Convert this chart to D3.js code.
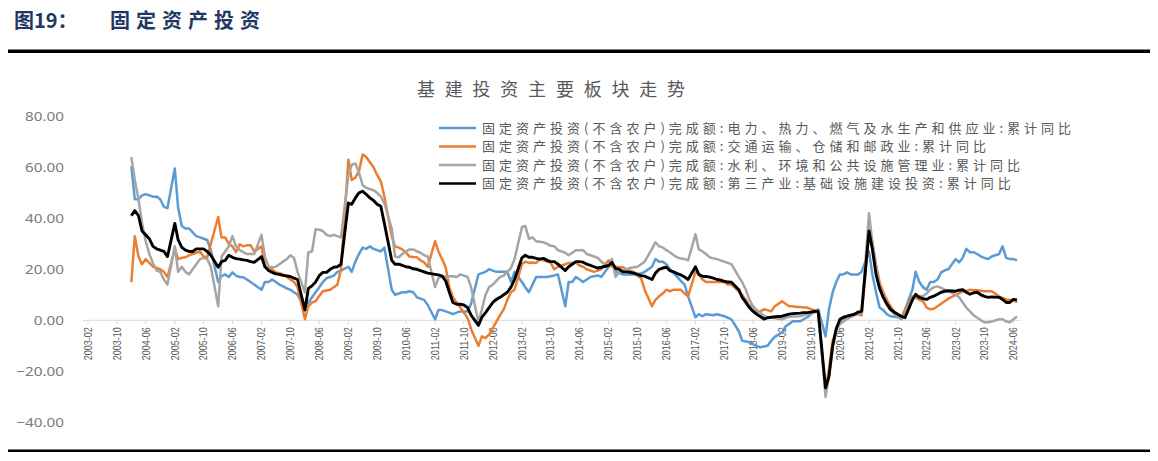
<!DOCTYPE html>
<html><head><meta charset="utf-8">
<script src="https://cdn.jsdelivr.net/npm/d3@7"></script>
<style>
html,body{margin:0;padding:0;background:#fff;}
svg{display:block;}
</style></head>
<body>
<svg id="chart" width="1158" height="461"></svg>
<script>
// ---------------- DATA ----------------
const headerLabel = "图19：";
const headerTitle = "固定资产投资";
const chartTitle = "基建投资主要板块走势";
const seriesNames = [
  "固定资产投资(不含农户)完成额:电力、热力、燃气及水生产和供应业:累计同比",
  "固定资产投资(不含农户)完成额:交通运输、仓储和邮政业:累计同比",
  "固定资产投资(不含农户)完成额:水利、环境和公共设施管理业:累计同比",
  "固定资产投资(不含农户)完成额:第三产业:基础设施建设投资:累计同比"
];
const seriesColors = ["#5B9BD5", "#ED7D31", "#A5A5A5", "#000000"];
const yTicks = [-40, -20, 0, 20, 40, 60, 80];
const xTickLabels = ["2003-02","2003-10","2004-06","2005-02","2005-10","2006-06","2007-02","2007-10",
  "2008-06","2009-02","2009-10","2010-06","2011-02","2011-10","2012-06","2013-02","2013-10","2014-06",
  "2015-02","2015-10","2016-06","2017-02","2017-10","2018-06","2019-02","2019-10","2020-06","2021-02",
  "2021-10","2022-06","2023-02","2023-10","2024-06"];

// categories: Feb..Dec of each year (no January release), 2004-02 .. 2024-07
const months = [];
for (let y = 2004; y <= 2024; y++) {
  for (let m = 2; m <= 12; m++) {
    if (y === 2024 && m > 7) break;
    months.push(y + "-" + String(m).padStart(2, "0"));
  }
}

// 电力、热力、燃气及水
const power = [
  60.5, 47.5, 47.5, 49, 49.5, 49, 48.5, 48.5, 47.5, 44.5, 44,      // 2004
  59.5, 44, 37, 36, 36, 34.5, 33, 32.5, 32, 31.5, 27.5,            // 2005
  15, 17.3, 18, 17, 18.8, 17.5, 17, 16.9, 16, 15, 14,              // 2006
  12, 15, 15, 16, 15, 14, 13.3, 12.5, 12, 11, 10,                  // 2007
  5, 7, 9, 11, 13, 15, 16.5, 17, 17.5, 19, 19.5,                   // 2008
  21, 19, 23, 26, 28.5, 28, 29, 28, 27.5, 27, 28.5,                // 2009
  12, 10, 10.5, 11, 11, 11.4, 11, 9, 8.5, 8, 6,                    // 2010
  0.4, 4, 4, 3.5, 3, 2.4, 3, 3.5, 3.5, 3.5, 6.5,                   // 2011
  18, 18.5, 19, 20, 19.5, 19, 19, 19, 19, 15, 19,                  // 2012
  15, 13, 11, 14, 17, 17, 17, 17, 17.3, 17.6, 18,                  // 2013
  5.5, 15, 15, 17, 16, 15, 16, 17, 17.3, 17.6, 17,                 // 2014
  21, 23, 19, 18.5, 18, 18, 18, 18, 18.2, 18.4, 19,                // 2015
  21, 24, 23, 23, 22, 20, 18.5, 17, 15.5, 14, 9.4,                 // 2016
  1.2, 2.4, 1.6, 2.4, 2.2, 2, 2.4, 2, 1.6, 1, 0.4,                 // 2017
  -4.3, -8, -8.3, -8.6, -9.3, -10, -10.6, -10.3, -10, -8, -6.5,    // 2018
  -4.7, -2.4, -1.4, -0.4, -0.4, -0.4, 0.4, 1.2, 2.4, 3.5, 4.3,     // 2019
  -6.3, 4.3, 11, 15, 18, 18, 18.8, 18, 18, 18, 19,                 // 2020
  27, 18, 11, 5, 4, 2.4, 1.6, 1.4, 1.2, 0.4, 4.3,                  // 2021
  12, 19, 15, 13, 12, 15, 15, 16, 18.8, 19.6, 20,                  // 2022
  24, 22.7, 24.5, 28, 26.7, 26.7, 26, 25, 24.5, 24, 25,            // 2023
  26, 29, 24.5, 24, 24, 23.5                                       // 2024
];
// 交通运输、仓储和邮政
const transport = [
  15, 33, 25, 22, 24, 22.5, 21, 20.5, 20, 19, 17,
  28, 24, 24.5, 24.7, 25.5, 26, 26.5, 27, 25, 24.7, 30,
  40.5, 32.5, 32.5, 30, 29, 26.7, 29.8, 29, 29.4, 29.4, 27,
  29, 21, 20.5, 20, 18.8, 18.5, 18, 17, 16, 15, 13,
  0.4, 5.5, 7, 7.5, 9.5, 11.4, 11.7, 12, 13, 14, 20,
  63, 55, 56, 58.4, 65, 64, 62, 60, 57, 54.5, 48.6,
  33, 29, 28.5, 27.8, 26.5, 25, 24.8, 24.7, 23.5, 22.7, 21,
  31, 27, 24, 20.8, 13, 9, 7, 5, 3, 1, -3.5,
  -10, -6.3, -7, -5.5, -3, -0.5, 2, 4.3, 8, 11, 12,
  22, 23, 22.5, 22.7, 22.5, 24, 23.5, 23, 22.5, 20, 21,
  22, 22.5, 22.5, 22.7, 21.5, 21, 20, 19.5, 19, 19.5, 20,
  23.5, 21, 21, 20.8, 20.8, 20, 19.5, 19, 17.5, 16.5, 12,
  5.5, 8, 9.4, 10.5, 12, 11.4, 12, 12, 12, 10.5, 9.4,
  19, 18, 16, 15, 15, 15, 15, 15, 15, 14, 14,
  11.4, 10, 8, 5.5, 5.5, 3, 3.5, 4.3, 4, 3.5, 5.5,
  7.5, 6.5, 5.5, 5.5, 5.2, 5.2, 5, 5, 4.3, 4, 3.5,
  -28, -19, -8, -4, -0.8, 0.5, 1.6, 2, 2.4, 2.4, 2,
  34.5, 30.6, 22, 15, 11, 8, 5.5, 3.5, 2.4, 1.2, 4,
  9.4, 9, 8, 7.5, 5, 4.3, 4.5, 5.5, 6.5, 7.5, 8.5,
  10, 10.6, 11.4, 11.4, 12, 11.8, 11.8, 11.6, 11.4, 11.4, 11.4,
  9.4, 8.8, 8.2, 8, 8, 7
];
// 水利、环境和公共设施管理
const water = [
  64, 55, 47.5, 38, 31, 26, 22.5, 19.5, 19, 16, 14,
  29, 19, 21, 19, 18, 20, 22, 24, 24.5, 24, 21,
  5.5, 25, 27, 29, 33, 29, 27.5, 26.7, 26, 26, 26,
  33.5, 25, 21, 20.8, 21, 22, 23, 24, 25.5, 24.5, 19,
  11, 26.7, 27, 35.7, 35.5, 35, 33.5, 33, 33.5, 33, 32.5,
  57, 61, 61.5, 58, 53, 52, 51.4, 51, 50, 48.6, 46,
  36, 25, 24.7, 26, 27, 27.8, 27.8, 27, 26.5, 25.5, 25,
  13, 16.5, 17.5, 17, 17.3, 17.3, 17, 18, 17.5, 17, 13,
  -0.8, 4.3, 10, 13, 14, 15.5, 17, 17.5, 19, 20.5, 24,
  36.5, 37, 32, 32.5, 31, 30.8, 30.6, 30, 29.2, 29, 27.5,
  26.5, 25.5, 26.5, 27.5, 27.5, 27.5, 26, 25.5, 25, 24.5, 23,
  21, 24, 17, 19, 19.5, 20, 20.5, 20.8, 21, 22, 23,
  28, 30.6, 29, 28.6, 27.5, 26.7, 25.5, 24.7, 24.2, 24, 23.5,
  33.7, 27.8, 27, 26, 24.7, 24.3, 24, 23.5, 23, 22.5, 22,
  17, 15, 12, 8, 5.5, 4, 3, 1.8, 1.2, 1.2, 0.8,
  0.4, 1, 1.4, 1.5, 1.5, 1.6, 2, 2.4, 2.7, 3, 3.5,
  -30, -22, -11, -4, -1.5, -0.5, 0.5, 1.2, 2, 2.5, 3,
  42, 30.6, 21, 14, 9, 6, 4, 2.5, 1.5, 0.6, 2.5,
  8.5, 9.4, 9.4, 9.4, 10.5, 12, 13, 13.3, 12.7, 12, 11.5,
  10, 9, 7, 5, 3.5, 2, 1, 0, -0.8, -0.8, -0.5,
  0.4, 0.4, -0.5, -0.8, 0.4, 1.5
];
// 第三产业:基础设施建设投资
const infra = [
  41, 43, 41, 35, 33.5, 32, 29, 28, 27.5, 27, 25,
  38, 31.5, 28.6, 27.5, 27, 27, 28, 28, 28, 27, 25.5,
  20.8, 23, 23.5, 25.5, 24.7, 24.2, 24, 23.7, 23.5, 23, 22.7,
  25, 21, 19.5, 18.8, 18.2, 18, 17.6, 17.4, 17.2, 16.5, 16,
  4, 12.5, 13.5, 15, 17.5, 18.8, 18.8, 20, 20.8, 21, 22,
  46, 45.5, 48, 50, 50.6, 49.4, 48, 47, 45.5, 44.7, 38,
  23.5, 22, 22, 21.5, 21, 20.8, 20.2, 20, 19.5, 19, 18.5,
  18, 17.8, 17.3, 15.5, 11, 7, 6.3, 6.3, 6, 5, 2,
  -2, 1.2, 3, 5, 7, 8.2, 9, 10, 11, 13, 16,
  24.5, 25.5, 24.7, 24.7, 24.3, 24, 24.3, 23.5, 23, 23, 22,
  19.5, 21, 22, 23, 23, 22.8, 22, 21.5, 21, 20.5, 20.8,
  21.5, 22.7, 20.3, 20, 19, 19, 18.8, 18.5, 18, 17.5, 17.3,
  16, 18.5, 20, 20.5, 20.8, 19.5, 19, 18.3, 17.8, 17, 16,
  21, 18, 17.3, 17.2, 16.9, 16.5, 16, 15.8, 15.3, 15, 14.9,
  12, 9, 7, 5, 3.5, 2.4, 1.5, 0.5, 1, 1.2, 1.4,
  1.6, 2, 2.4, 2.6, 2.7, 2.8, 3, 3, 3.2, 3.5, 3.5,
  -26.5, -22, -10, -3.3, 0.4, 1.2, 1.6, 2, 2.4, 3.2, 3.5,
  35, 28, 18, 12.5, 9, 6.5, 4.3, 3.2, 2.4, 1.5, 1,
  8, 10.2, 9, 8.5, 8.2, 9, 9.5, 10.2, 11, 11.4, 11.6,
  11.4, 11.8, 12, 11, 10.2, 10.8, 11, 10, 9.4, 9, 9.2,
  9, 8.2, 7, 7, 8.2, 8
];
const seriesValues = [power, transport, water, infra];

// ---------------- DRAW ----------------
const svg = d3.select("#chart");
const parseM = d3.timeParse("%Y-%m");
const CJK = "'Noto Sans CJK SC','Noto Sans',sans-serif";

// header
svg.append("text").attr("x", 14).attr("y", 28)
  .attr("font-family", CJK).attr("font-weight", 700).attr("font-size", 20)
  .attr("fill", "#1F3864").text(headerLabel);
svg.append("text").attr("x", 110).attr("y", 28)
  .attr("font-family", CJK).attr("font-weight", 700).attr("font-size", 20)
  .attr("letter-spacing", 6).attr("fill", "#1F3864").text(headerTitle);
svg.append("rect").attr("x", 8).attr("y", 49.5).attr("width", 1142).attr("height", 3.5).attr("fill", "#000");
svg.append("rect").attr("x", 8).attr("y", 449.5).attr("width", 1142).attr("height", 2.5).attr("fill", "#000");

// scales
const x = d3.scaleTime()
  .domain([parseM("2003-02"), parseM("2024-08")])
  .range([88, 1020.7]);
const y = d3.scaleLinear().domain([-40, 80]).range([422.3, 116.3]);

// chart title
svg.append("text").attr("x", 417).attr("y", 96)
  .attr("font-family", CJK).attr("font-size", 18).attr("fill", "#595959")
  .attr("textLength", 268).attr("lengthAdjust", "spacing")
  .text(chartTitle);

// y axis labels
svg.append("g").selectAll("text").data(yTicks).join("text")
  .attr("transform", d => `translate(64,${y(d) + 4.5}) scale(1.22,1)`)
  .attr("text-anchor", "end")
  .attr("font-family", "'Noto Sans',sans-serif").attr("font-size", 12.5)
  .attr("fill", "#7a7a7a")
  .text(d => d3.format(".2f")(d));

// x axis line at 0
svg.append("line").attr("x1", 83).attr("x2", 1021)
  .attr("y1", y(0)).attr("y2", y(0)).attr("stroke", "#D9D9D9").attr("stroke-width", 1);
const gx = svg.append("g");
gx.selectAll("line").data(xTickLabels).join("line")
  .attr("x1", d => x(parseM(d))).attr("x2", d => x(parseM(d)))
  .attr("y1", y(0)).attr("y2", y(0) + 4).attr("stroke", "#D9D9D9");
gx.selectAll("text").data(xTickLabels).join("text")
  .attr("transform", d => `translate(${x(parseM(d)) + 3.8},${y(0) + 7}) rotate(-90)`)
  .attr("text-anchor", "end")
  .attr("font-family", "'Liberation Sans Narrow','Liberation Sans',sans-serif")
  .attr("font-size", 11.5).attr("fill", "#595959")
  .attr("textLength", 33).attr("lengthAdjust", "spacingAndGlyphs")
  .text(d => d);

// lines
const line = d3.line()
  .x((d, i) => x(parseM(months[i])))
  .y(d => y(d));
const gl = svg.append("g");
seriesValues.forEach((vals, k) => {
  gl.append("path")
    .attr("d", line(vals))
    .attr("fill", "none")
    .attr("stroke", seriesColors[k])
    .attr("stroke-width", k === 3 ? 2.9 : 2.5)
    .attr("stroke-linejoin", "round");
});

// legend
const legendRows = [128, 146.5, 165, 183.5];
const gLeg = svg.append("g");
seriesNames.forEach((name, k) => {
  gLeg.append("line").attr("x1", 439).attr("x2", 476)
    .attr("y1", legendRows[k]).attr("y2", legendRows[k])
    .attr("stroke", seriesColors[k]).attr("stroke-width", 2.5);
  gLeg.append("text").attr("x", 482).attr("y", legendRows[k] + 4.5)
    .attr("font-family", CJK).attr("font-size", 13).attr("letter-spacing", 4)
    .attr("fill", "#595959").text(name);
});
</script>
</body></html>
